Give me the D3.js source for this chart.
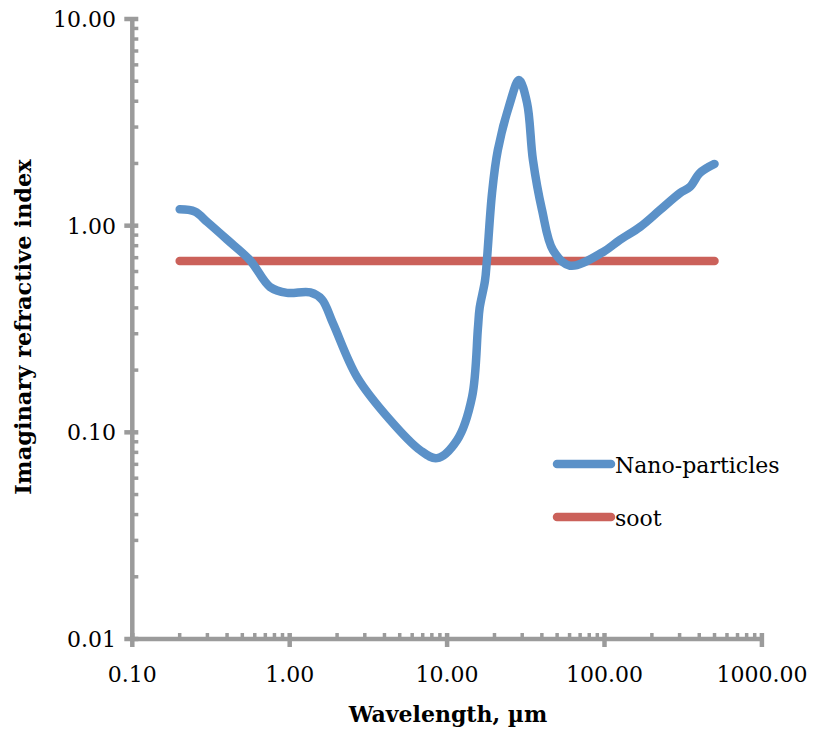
<!DOCTYPE html>
<html>
<head>
<meta charset="utf-8">
<script src="https://cdn.jsdelivr.net/npm/d3@7"></script>
<style>
  body { margin: 0; background: #fff; }
  text { font-family: "DejaVu Serif", serif; fill: #000; }
</style>
</head>
<body>
<svg id="chart" width="814" height="734"></svg>
<script>
// wavelength in micrometres
const wavelength = [0.2, 0.25, 0.3, 0.4, 0.56, 0.75, 0.96, 1.35, 1.6, 1.88, 2.68, 4.33, 6.73, 8.63,
  11.6, 14.4, 15.7, 16.1, 17.4, 17.9, 19.3, 21, 25.1, 28.6, 32.2, 35.1, 40.1, 47.1, 60.4,
  98, 125, 168, 225, 302, 349, 404, 500]
const nanoParticles = [1.2, 1.17, 1.04, 0.857, 0.68, 0.505, 0.473, 0.475, 0.44, 0.338, 0.185, 0.115, 0.082, 0.075,
  0.092, 0.148, 0.32, 0.40, 0.54, 0.68, 1.44, 2.32, 3.93, 5.07, 3.93, 2.08, 1.19, 0.76, 0.64,
  0.746, 0.853, 0.985, 1.19, 1.44, 1.54, 1.80, 1.99]
const sootWavelength = [0.2, 500]
const soot = [0.675, 0.675]

const seriesNames = ['Nano-particles', 'soot']
const seriesColors = ['#5b91c8', '#cb615a']

const xTicks = [0.1, 1, 10, 100, 1000]
const yTicks = [0.01, 0.1, 1, 10]

const axisColor = '#9b9b9b'

const svg = d3.select('#chart')

// log scales for both axes
const x = d3.scaleLog().domain([0.1, 1000]).range([132.3, 761.9])
const y = d3.scaleLog().domain([0.01, 10]).range([639, 19])
const fmt = d3.format('.2f')

// minor ticks 2..9 inside each decade
const minor = (ticks) => {
  const out = []
  for (let i = 0; i < ticks.length - 1; i++) {
    for (let k = 2; k < 10; k++) out.push(ticks[i] * k)
  }
  return out
}

const axes = svg.append('g')

// x axis line
axes.append('line')
  .attr('x1', x(0.1)).attr('x2', x(1000))
  .attr('y1', y(0.01)).attr('y2', y(0.01))
  .attr('stroke', axisColor).attr('stroke-width', 4.5)

// y axis line
axes.append('line')
  .attr('x1', x(0.1)).attr('x2', x(0.1))
  .attr('y1', y(0.01)).attr('y2', y(10))
  .attr('stroke', axisColor).attr('stroke-width', 4.5)

// x minor ticks (inside)
axes.selectAll('.xminor')
  .data(minor(xTicks))
  .enter().append('line')
  .attr('x1', d => x(d)).attr('x2', d => x(d))
  .attr('y1', y(0.01)).attr('y2', y(0.01) - 6)
  .attr('stroke', axisColor).attr('stroke-width', 3.5)

// x major ticks (cross)
axes.selectAll('.xmajor')
  .data(xTicks)
  .enter().append('line')
  .attr('x1', d => x(d)).attr('x2', d => x(d))
  .attr('y1', y(0.01) - 6).attr('y2', y(0.01) + 8)
  .attr('stroke', axisColor).attr('stroke-width', 4.5)

// y minor ticks (inside)
axes.selectAll('.yminor')
  .data(minor(yTicks))
  .enter().append('line')
  .attr('x1', x(0.1)).attr('x2', x(0.1) + 6)
  .attr('y1', d => y(d)).attr('y2', d => y(d))
  .attr('stroke', axisColor).attr('stroke-width', 3.5)

// y major ticks (cross)
axes.selectAll('.ymajor')
  .data(yTicks)
  .enter().append('line')
  .attr('x1', x(0.1) - 8).attr('x2', x(0.1) + 6)
  .attr('y1', d => y(d)).attr('y2', d => y(d))
  .attr('stroke', axisColor).attr('stroke-width', 4.5)

// tick labels
axes.selectAll('.xlabel')
  .data(xTicks)
  .enter().append('text')
  .attr('x', d => x(d))
  .attr('y', 682)
  .attr('text-anchor', 'middle')
  .style('font-size', '22px')
  .text(d => fmt(d))

axes.selectAll('.ylabel')
  .data(yTicks)
  .enter().append('text')
  .attr('x', 116)
  .attr('y', d => y(d))
  .attr('dy', '0.36em')
  .attr('text-anchor', 'end')
  .style('font-size', '22px')
  .text(d => fmt(d))

// axis titles
svg.append('text')
  .attr('x', 448)
  .attr('y', 722)
  .attr('text-anchor', 'middle')
  .style('font-size', '22px')
  .style('font-weight', 'bold')
  .text('Wavelength, µm')

svg.append('text')
  .attr('transform', 'translate(31, 327) rotate(-90)')
  .attr('text-anchor', 'middle')
  .style('font-size', '22.5px')
  .style('font-weight', 'bold')
  .text('Imaginary refractive index')

// series lines
const line = d3.line()
  .x(d => x(d[0]))
  .y(d => y(d[1]))
  .curve(d3.curveCatmullRom.alpha(0.5))

svg.append('path')
  .datum(d3.zip(sootWavelength, soot))
  .attr('d', line)
  .attr('fill', 'none')
  .attr('stroke', seriesColors[1])
  .attr('stroke-width', 8.5)
  .attr('stroke-linecap', 'round')

svg.append('path')
  .datum(d3.zip(wavelength, nanoParticles))
  .attr('d', line)
  .attr('fill', 'none')
  .attr('stroke', seriesColors[0])
  .attr('stroke-width', 8.5)
  .attr('stroke-linecap', 'round')
  .attr('stroke-linejoin', 'round')

// legend
const legend = svg.selectAll('.legend')
  .data(seriesNames)
  .enter().append('g')
  .attr('transform', (d, i) => `translate(557, ${464 + i * 53})`)

legend.append('line')
  .attr('x1', 0).attr('x2', 54)
  .attr('stroke', (d, i) => seriesColors[i])
  .attr('stroke-width', 8.5)
  .attr('stroke-linecap', 'round')

legend.append('text')
  .attr('x', 58)
  .attr('y', 9)
  .style('font-size', '22px')
  .text(d => d)
</script>
</body>
</html>
